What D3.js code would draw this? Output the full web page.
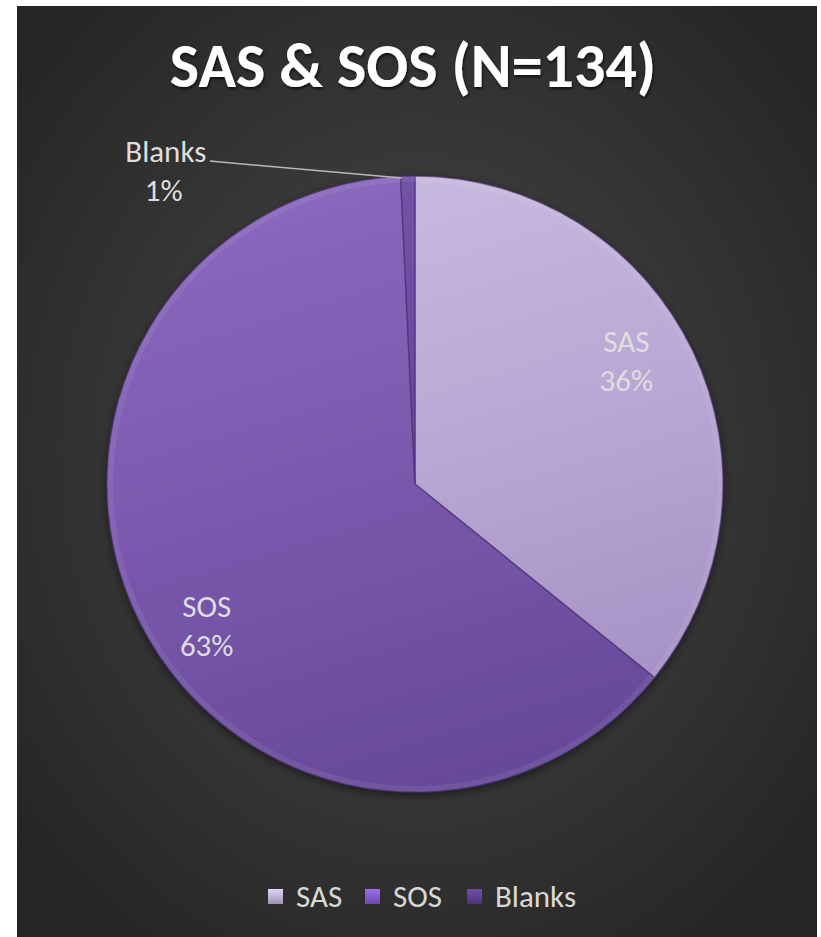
<!DOCTYPE html>
<html><head><meta charset="utf-8">
<script src="https://cdn.jsdelivr.net/npm/d3@7"></script>
<style>html,body{margin:0;padding:0;background:#fff;}svg{display:block;}</style>
</head><body>
<svg id="chart" width="821" height="937"></svg>
<script>
const categories = ["SAS", "SOS", "Blanks"];
const counts = [48, 85, 1];
const titleText = "SAS & SOS (N=134)";
const sliceTop = ["#c8bbdf", "#8a68be", "#7253a8"];
const sliceMid = ["#b9a8d4", "#7b59ae", "#67489c"];
const sliceBot = ["#a28dc2", "#654897", "#563b86"];
const legendMarkerColors = ["#b7aacb", "#7f57c4", "#5a3d8c"];

const W = 821, H = 937;
const svg = d3.select("#chart");
const defs = svg.append("defs");
const fontFam = "Carlito, Calibri, 'Open Sans', sans-serif";

// background
const bg = defs.append("radialGradient").attr("id", "bg")
  .attr("cx", "50%").attr("cy", "48%").attr("r", "65%");
bg.append("stop").attr("offset", "0%").attr("stop-color", "#4a4a4a");
bg.append("stop").attr("offset", "100%").attr("stop-color", "#252525");
svg.append("rect").attr("x", 17).attr("y", 6).attr("width", 800).attr("height", 931).attr("fill", "url(#bg)");

// title
const shadow = defs.append("filter").attr("id", "tshadow").attr("x", "-10%").attr("y", "-20%").attr("width", "120%").attr("height", "150%");
shadow.append("feDropShadow").attr("dx", 1).attr("dy", 2).attr("stdDeviation", 1.5).attr("flood-color", "#000").attr("flood-opacity", 0.7);
svg.append("text").attr("x", 413).attr("y", 87)
  .attr("text-anchor", "middle").attr("font-family", fontFam).attr("font-weight", "bold")
  .attr("font-size", 62).attr("fill", "#ffffff").attr("filter", "url(#tshadow)")
  .text(titleText);

// pie
const cx = 415, cy = 484, R = 308;
const total = d3.sum(counts);
const data = categories.map((c, i) => ({ cat: c, value: counts[i], i }));
const pie = d3.pie().value(d => d.value).sort(null);
const arcs = pie(data);
const arc = d3.arc().innerRadius(0).outerRadius(R);
const pct = d3.format(".0%");

categories.forEach((c, i) => {
  const g = defs.append("linearGradient").attr("id", "sl" + i)
    .attr("gradientUnits", "userSpaceOnUse")
    .attr("x1", -R * 0.3).attr("y1", -R).attr("x2", R * 0.3).attr("y2", R);
  g.append("stop").attr("offset", "0%").attr("stop-color", sliceTop[i]);
  g.append("stop").attr("offset", "45%").attr("stop-color", sliceMid[i]);
  g.append("stop").attr("offset", "100%").attr("stop-color", sliceBot[i]);
});

const ps = defs.append("filter").attr("id", "pshadow").attr("x", "-10%").attr("y", "-10%").attr("width", "120%").attr("height", "120%");
ps.append("feDropShadow").attr("dx", 0).attr("dy", 3).attr("stdDeviation", 4).attr("flood-color", "#000").attr("flood-opacity", 0.5);

const pg = svg.append("g").attr("transform", `translate(${cx},${cy})`);
pg.append("g").attr("filter", "url(#pshadow)").selectAll("path").data(arcs).join("path")
  .attr("d", arc).attr("fill", (d, i) => `url(#sl${i})`)
  .attr("stroke", "#4a3172").attr("stroke-opacity", 0.6).attr("stroke-width", 1.5);
// bevel highlight rim
const rimArc = d3.arc().innerRadius(R - 6).outerRadius(R);
pg.append("g").selectAll("path").data(arcs).join("path")
  .attr("d", rimArc).attr("fill", "#ffffff").attr("fill-opacity", 0.07);

// labels
const labelR = 248, shiftDeg = -6;
const lblColor = "#dedede";
const fs = 31;
arcs.forEach((a, i) => {
  const mid = (a.startAngle + a.endAngle) / 2;
  if (a.data.cat === "Blanks") {
    const ex = Math.sin(mid) * R - 6, ey = -Math.cos(mid) * R + 2;
    const lx = ex - 192, ly = ey - 17;
    pg.append("line").attr("x1", lx).attr("y1", ly).attr("x2", ex).attr("y2", ey)
      .attr("stroke", "#b8b8b8").attr("stroke-width", 1.5);
    const t = pg.append("text").attr("text-anchor", "middle").attr("font-family", fontFam)
      .attr("font-size", fs).attr("fill", lblColor);
    t.append("tspan").attr("x", lx - 44).attr("y", ly + 1).text(a.data.cat);
    t.append("tspan").attr("x", lx - 46).attr("y", ly + 40).text(pct(a.data.value / total));
  } else {
    const ang = mid + shiftDeg * Math.PI / 180;
    const x = Math.sin(ang) * labelR, y = -Math.cos(ang) * labelR;
    const t = pg.append("text").attr("text-anchor", "middle").attr("font-family", fontFam)
      .attr("font-size", fs).attr("fill", lblColor);
    t.append("tspan").attr("x", x).attr("y", y - 2).text(a.data.cat);
    t.append("tspan").attr("x", x).attr("y", y + 37).text(pct(a.data.value / total));
  }
});

// legend
const legendX = [268, 365, 467];
const lg = svg.append("g");
categories.forEach((c, i) => {
  const gg = defs.append("linearGradient").attr("id", "lm" + i).attr("x1", 0).attr("y1", 0).attr("x2", 0).attr("y2", 1);
  gg.append("stop").attr("offset", "0%").attr("stop-color", d3.color(legendMarkerColors[i]).brighter(0.6));
  gg.append("stop").attr("offset", "100%").attr("stop-color", d3.color(legendMarkerColors[i]).darker(0.4));
  lg.append("rect").attr("x", legendX[i]).attr("y", 889).attr("width", 15).attr("height", 15)
    .attr("fill", `url(#lm${i})`);
  lg.append("text").attr("x", legendX[i] + 28).attr("y", 907).attr("font-family", fontFam)
    .attr("font-size", fs).attr("fill", "#d9d9d9").text(c);
});
</script>
</body></html>
